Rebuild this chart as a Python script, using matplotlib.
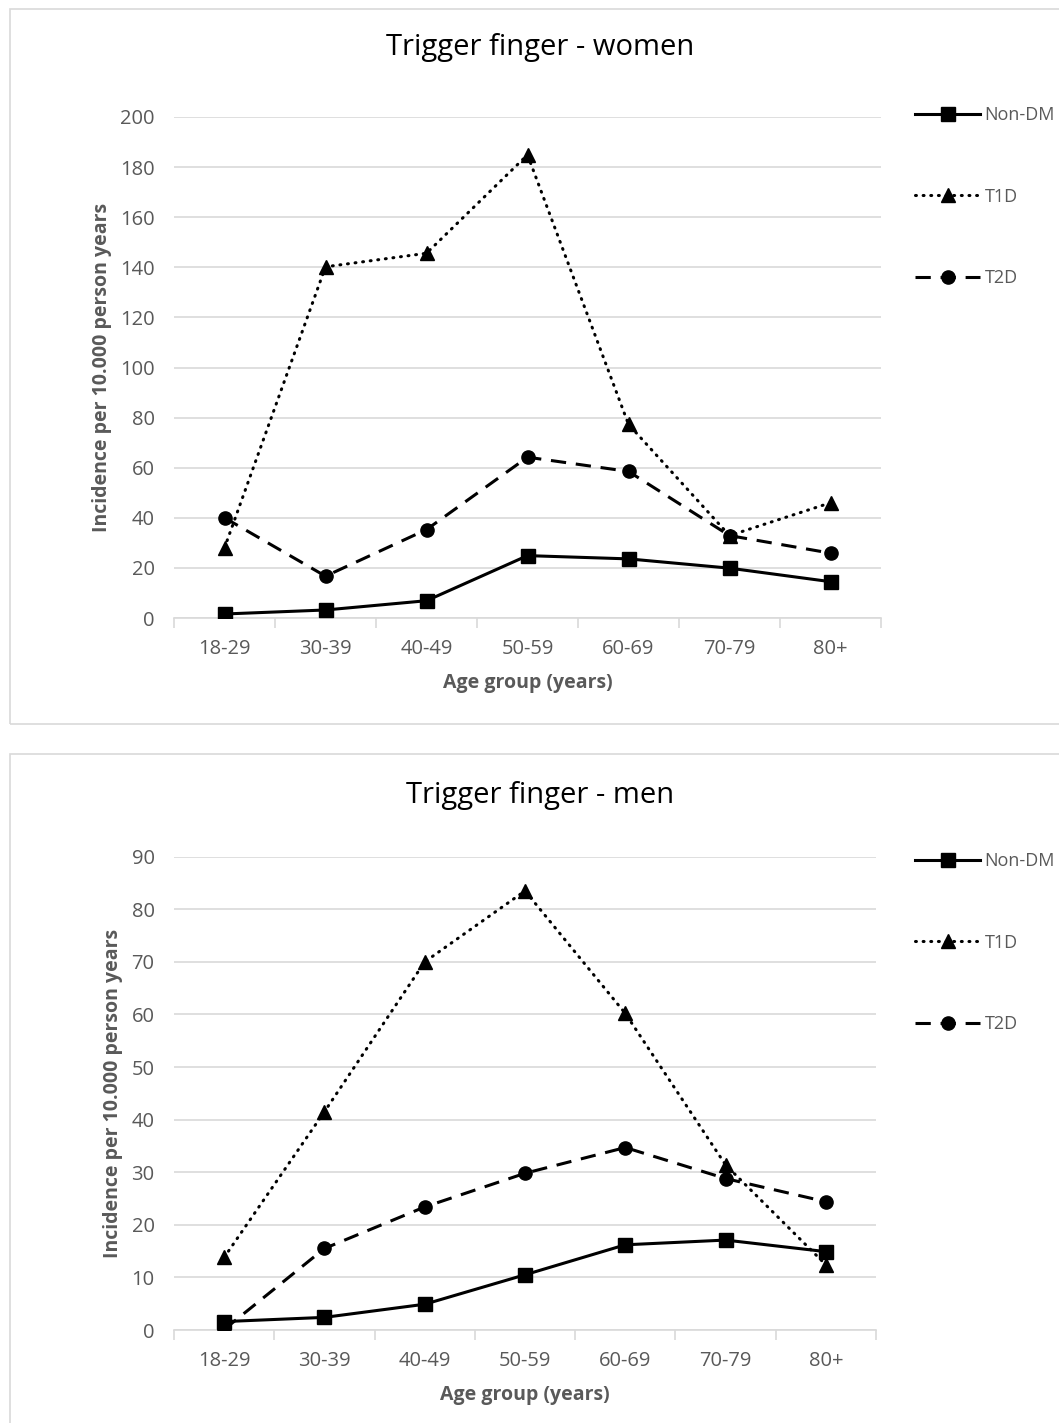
"""Trigger finger incidence by age group, women and men, by diabetes status."""

import matplotlib.pyplot as plt
from matplotlib.patches import Rectangle
from matplotlib.ticker import FixedLocator, NullFormatter

plt.rcParams["font.family"] = ["Open Sans", "DejaVu Sans"]

# Data
age_groups = ["18-29", "30-39", "40-49", "50-59", "60-69", "70-79", "80+"]

women_non_dm = [1.6, 3.2, 6.9, 24.9, 23.6, 19.9, 14.5]
women_t1d = [28.0, 140.2, 145.6, 184.9, 77.3, 32.9, 46.0]
women_t2d = [40.0, 16.7, 35.3, 64.2, 58.5, 32.9, 25.9]

men_non_dm = [1.6, 2.4, 4.9, 10.5, 16.2, 17.1, 14.9]
men_t1d = [13.8, 41.5, 70.0, 83.5, 60.2, 31.4, 12.4]
men_t2d = [0.1, 15.5, 23.4, 29.8, 34.7, 28.8, 24.4]

GRID = "#d9d9d9"
TEXT = "#595959"
W, H = 1059, 1423

fig = plt.figure(figsize=(W / 100, H / 100), dpi=100)


def px_box(left, top, right, bottom):
    # pixel box -> figure fraction rect
    return [left / W, 1 - bottom / H, (right - left) / W, (bottom - top) / H]


def panel(box, title, title_y, non_dm, t1d, t2d, ymax, step, legend_y):
    ax = fig.add_axes(box)
    x = range(len(age_groups))

    ax.plot(x, non_dm, color="black", lw=2.2, marker="s", ms=9.5, label="Non-DM",
            zorder=3)
    ax.plot(x, t1d, color="black", lw=2.2, linestyle=(0, (0.3, 2.2)),
            dash_capstyle="round", marker="^", ms=9.5, label="T1D", zorder=3)
    ax.plot(x, t2d, color="black", lw=2.2, linestyle=(0, (5, 3.2)), marker="o",
            ms=9.5, label="T2D", zorder=3)

    ax.set_xlim(-0.5, len(age_groups) - 0.5)
    ax.set_ylim(0, ymax)
    ax.set_yticks(range(0, ymax + 1, step))
    ax.yaxis.grid(True, color=GRID, lw=1.2)
    ax.set_axisbelow(True)

    ax.set_xticks(list(x))
    ax.set_xticklabels(age_groups)
    ax.xaxis.set_minor_locator(FixedLocator([i - 0.5 for i in range(len(age_groups) + 1)]))
    ax.xaxis.set_minor_formatter(NullFormatter())
    ax.tick_params(axis="x", which="major", length=0, pad=15, labelsize=14.5,
                   labelcolor=TEXT)
    ax.tick_params(axis="x", which="minor", length=7, width=1.2, color=GRID)
    ax.tick_params(axis="y", length=0, pad=14, labelsize=14.5, labelcolor=TEXT)

    for side in ["top", "right", "left"]:
        ax.spines[side].set_visible(False)
    ax.spines["bottom"].set_color(GRID)
    ax.spines["bottom"].set_linewidth(1.2)
    ax.spines["bottom"].set_zorder(1)

    ax.set_xlabel("Age group (years)", fontsize=14, fontweight="bold",
                  color=TEXT, labelpad=10)
    ax.set_ylabel("Incidence per 10.000 person years", fontsize=14,
                  fontweight="bold", color=TEXT, labelpad=6)

    fig.text(540 / W, 1 - title_y / H, title, ha="center", va="center",
             fontsize=21, color="black")

    ax.legend(loc="upper left", bbox_to_anchor=(908 / W, 1 - legend_y / H),
              bbox_transform=fig.transFigure, frameon=False, fontsize=13,
              labelcolor=TEXT, handlelength=3.6, handletextpad=0.25,
              labelspacing=3.52, borderaxespad=0)
    return ax


# panel borders
fig.patches.append(Rectangle((10 / W, 1 - 724 / H), 1.2, (724 - 8.5) / H,
                             transform=fig.transFigure, fill=False,
                             edgecolor=GRID, lw=1.2))
fig.patches.append(Rectangle((10 / W, -0.1), 1.2, 0.1 + (1423 - 754) / H,
                             transform=fig.transFigure, fill=False,
                             edgecolor=GRID, lw=1.2))

panel(px_box(174, 117, 881, 618), "Trigger finger - women", 48,
      women_non_dm, women_t1d, women_t2d, 200, 20, 99)
panel(px_box(174, 856.7, 876, 1330), "Trigger finger - men", 795,
      men_non_dm, men_t1d, men_t2d, 90, 10, 845)

fig.savefig("out.png", dpi=100)
